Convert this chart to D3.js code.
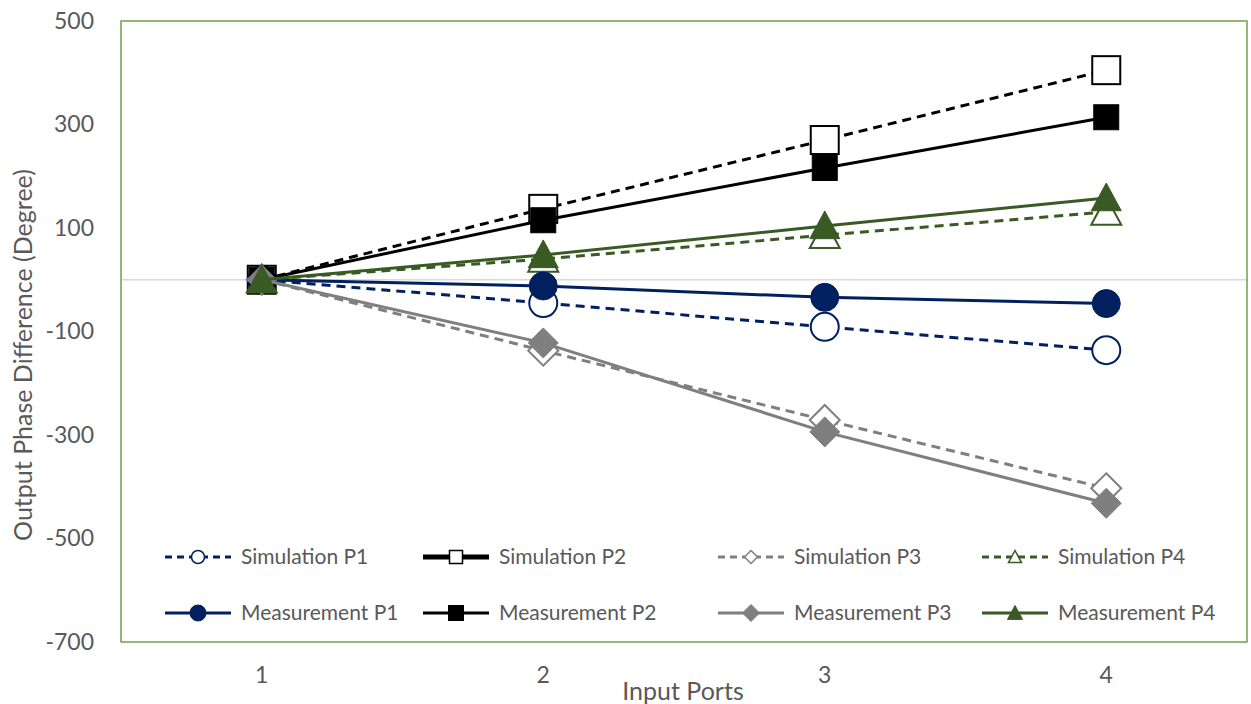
<!DOCTYPE html>
<html><head><meta charset="utf-8">
<script src="https://cdn.jsdelivr.net/npm/d3@7"></script>
<style>body{margin:0;background:#fff}text{font-family:Lato,"Liberation Sans",sans-serif}</style>
</head><body><svg id="c" width="1251" height="704"></svg>
<script>
const categories = ["1","2","3","4"];
const yTicks = [500,300,100,-100,-300,-500,-700];
const simP1 = [0,-45,-91,-136];
const simP2 = [0,137,270,405];
const simP3 = [0,-137,-271,-403];
const simP4 = [0,40,86,131];
const measP1 = [0,-12,-34,-46];
const measP2 = [0,115,216,314];
const measP3 = [0,-122,-294,-432];
const measP4 = [0,48,104,158];
const seriesNames = ["Simulation P1","Simulation P2","Simulation P3","Simulation P4","Measurement P1","Measurement P2","Measurement P3","Measurement P4"];

const NAVY="#002060", BLACK="#000000", GRAY="#7F7F7F", GREEN="#3A5A24";
const series = [
  {name:seriesNames[0], v:simP1, color:NAVY, dash:"9,6", shape:"circle", fill:false},
  {name:seriesNames[1], v:simP2, color:BLACK, dash:"9,6", shape:"square", fill:false, legendSolid:true},
  {name:seriesNames[2], v:simP3, color:GRAY, dash:"9,6", shape:"diamond", fill:false},
  {name:seriesNames[3], v:simP4, color:GREEN, dash:"9,6", shape:"triangle", fill:false},
  {name:seriesNames[4], v:measP1, color:NAVY, dash:null, shape:"circle", fill:true},
  {name:seriesNames[5], v:measP2, color:BLACK, dash:null, shape:"square", fill:true},
  {name:seriesNames[6], v:measP3, color:GRAY, dash:null, shape:"diamond", fill:true},
  {name:seriesNames[7], v:measP4, color:GREEN, dash:null, shape:"triangle", fill:true}
];

const svg = d3.select("#c");
const L=121, R=1247, T=21, B=642;
const x = d3.scaleBand().domain(categories).range([L,R]);
const y = d3.scaleLinear().domain([-700,500]).range([B,T]);
const xc = c => x(c)+x.bandwidth()/2;

// zero line
svg.append("line").attr("x1",L).attr("x2",R).attr("y1",y(0)).attr("y2",y(0))
  .attr("stroke","#D9D9D9").attr("stroke-width",1.5);

// axes
const ya = svg.append("g").attr("transform",`translate(${L},0)`)
  .call(d3.axisLeft(y).tickValues(yTicks).tickSize(0).tickPadding(27).tickFormat(d=>String(d)));
ya.select(".domain").remove();
ya.selectAll("text").attr("font-size",23).attr("fill","#595959").style("font-family","Lato,sans-serif");
const xa = svg.append("g").attr("transform",`translate(0,${B})`)
  .call(d3.axisBottom(x).tickSize(0).tickPadding(25));
xa.select(".domain").remove();
xa.selectAll("text").attr("font-size",23).attr("fill","#595959").style("font-family","Lato,sans-serif");

svg.append("text").attr("x",683).attr("y",700).attr("text-anchor","middle")
  .attr("font-size",25).attr("fill","#595959").text("Input Ports");
svg.append("text").attr("transform","translate(32,355) rotate(-90)").attr("text-anchor","middle")
  .attr("font-size",25).attr("fill","#595959").text("Output Phase Difference (Degree)");

function marker(g, shape, cx, cy, size, color, fill, sw){
  let el;
  if(shape==="circle") el=g.append("circle").attr("cx",cx).attr("cy",cy).attr("r",size/2);
  else if(shape==="square") el=g.append("rect").attr("x",cx-size/2).attr("y",cy-size/2).attr("width",size).attr("height",size);
  else if(shape==="diamond"){const s=size/2; el=g.append("path").attr("d",`M${cx},${cy-s}L${cx+s},${cy}L${cx},${cy+s}L${cx-s},${cy}Z`);}
  else {const s=size/2; el=g.append("path").attr("d",`M${cx},${cy-s}L${cx+s},${cy+s*0.85}L${cx-s},${cy+s*0.85}Z`);}
  el.attr("fill",fill?color:"#fff").attr("stroke",color).attr("stroke-width",sw);
}

const line = d3.line().x((d,i)=>xc(categories[i])).y(d=>y(d));
series.forEach(s=>{
  const g = svg.append("g");
  g.append("path").attr("d",line(s.v)).attr("fill","none").attr("stroke",s.color)
    .attr("stroke-width",3).attr("stroke-dasharray",s.dash);
  s.v.forEach((v,i)=>{
    const sz = s.shape==="diamond"?30:(s.shape==="triangle"?30:(s.fill&&s.shape==="square"?25:28));
    marker(g, s.shape, xc(categories[i]), y(v), sz, s.color, s.fill, s.fill?1:2);
  });
});

// border
svg.append("rect").attr("x",L).attr("y",T).attr("width",R-L).attr("height",B-T)
  .attr("fill","none").attr("stroke","#70A04A").attr("stroke-width",1.5);

// legend
const colX = [165,423,718,982];
const rowY = [557,613];
series.forEach((s,i)=>{
  const col=i%4,row=Math.floor(i/4);
  const x0=colX[col], y0=rowY[row], w=66;
  const g=svg.append("g");
  g.append("line").attr("x1",x0).attr("x2",x0+w).attr("y1",y0).attr("y2",y0)
    .attr("stroke",s.color).attr("stroke-width",s.legendSolid?5:3)
    .attr("stroke-dasharray",s.legendSolid?null:(s.dash?"7,5":null));
  const sz = s.fill?(s.shape==="circle"?16:(s.shape==="diamond"?17:15)):13;
  marker(g,s.shape,x0+w/2,y0,sz,s.color,s.fill,s.fill?1:1.5);
  g.append("text").attr("x",x0+w+10).attr("y",y0).attr("dy","0.35em")
    .attr("font-size",21).attr("fill","#595959").text(s.name);
});
</script></body></html>
